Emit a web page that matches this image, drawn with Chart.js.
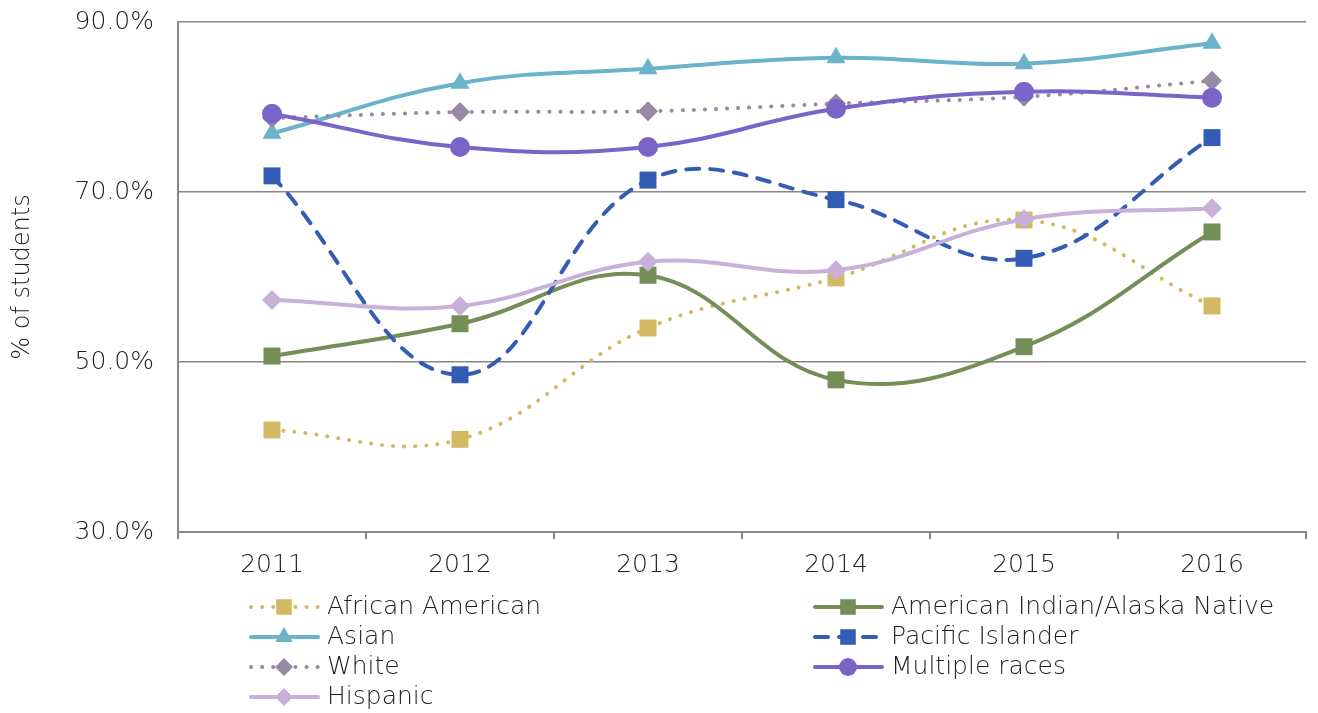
<!DOCTYPE html>
<html>
<head>
<meta charset="utf-8">
<script src="https://cdn.jsdelivr.net/npm/chart.js@4.4.1/dist/chart.umd.min.js"></script>
<style>
  html, body { margin: 0; padding: 0; background: #fff; }
  #wrap { width: 1318px; height: 713px; }
</style>
</head>
<body>
<div id="wrap"><canvas id="grad-chart"></canvas></div>
<script>
const years = ['2011', '2012', '2013', '2014', '2015', '2016'];
const africanAmerican = [42.0, 40.9, 54.0, 59.9, 66.7, 56.6];
const americanIndian = [50.7, 54.5, 60.2, 47.9, 51.8, 65.3];
const asian = [76.9, 82.8, 84.5, 85.8, 85.1, 87.5];
const pacificIslander = [71.9, 48.5, 71.4, 69.1, 62.2, 76.4];
const white = [78.7, 79.4, 79.5, 80.4, 81.2, 83.1];
const multipleRaces = [79.2, 75.3, 75.3, 79.8, 81.8, 81.1];
const hispanic = [57.3, 56.6, 61.8, 60.8, 66.8, 68.1];
const yTicks = [30, 50, 70, 90];

const FONT = '"DejaVu Sans", sans-serif';
const TEXT = '#1e1e1e';
const AXIS = '#878787';

const dotted = [0.1, 11];
const dashed = [13, 11];

function series(label, data, color, style, radius, dash) {
  return {
    label: label,
    data: data,
    borderColor: color,
    backgroundColor: color,
    borderWidth: 4,
    borderDash: dash || [],
    borderCapStyle: 'round',
    tension: 0.4,
    pointStyle: style,
    pointRadius: radius,
    pointHoverRadius: radius,
    pointBorderWidth: 0,
    pointBackgroundColor: color
  };
}

const datasets = [
  series('African American', africanAmerican, '#D2B962', 'rect', 12, dotted),
  series('American Indian/Alaska Native', americanIndian, '#738E56', 'rect', 12),
  series('Asian', asian, '#6BB2CB', 'triangle', 11),
  series('Pacific Islander', pacificIslander, '#355CB5', 'rect', 12, dashed),
  series('White', white, '#978AA5', 'rectRot', 10, dotted),
  series('Multiple races', multipleRaces, '#7B64C8', 'circle', 10),
  series('Hispanic', hispanic, '#C8B0D8', 'rectRot', 10)
];
// later series sit on top
datasets.forEach((d, i) => { d.order = datasets.length - i; });

// two-column legend under the axis
const legendGrid = {
  id: 'legendGrid',
  afterDraw(chart) {
    const ctx = chart.ctx;
    const cols = [249, 813];
    const rowY = [607, 637, 667, 697];
    ctx.save();
    chart.data.datasets.forEach((ds, i) => {
      const x = cols[i % 2];
      const y = rowY[Math.floor(i / 2)];
      ctx.strokeStyle = ds.borderColor;
      ctx.lineWidth = 4;
      ctx.lineCap = 'round';
      ctx.setLineDash(ds.borderDash);
      ctx.beginPath();
      ctx.moveTo(x + 2, y);
      ctx.lineTo(x + 69, y);
      ctx.stroke();
      ctx.setLineDash([]);
      ctx.fillStyle = ds.pointBackgroundColor;
      Chart.helpers.drawPoint(ctx, {
        pointStyle: ds.pointStyle,
        radius: ds.pointRadius - 1,
        rotation: 0,
        borderWidth: 0
      }, x + 35, y);
      ctx.fillStyle = TEXT;
      ctx.font = '200 25px ' + FONT;
      ctx.textBaseline = 'middle';
      ctx.textAlign = 'left';
      ctx.fillText(ds.label, x + 78, y);
    });
    ctx.restore();
  }
};

new Chart(document.getElementById('grad-chart'), {
  type: 'line',
  data: { labels: years, datasets: datasets },
  plugins: [legendGrid],
  options: {
    responsive: true,
    maintainAspectRatio: false,
    animation: false,
    layout: { padding: { top: 22, right: 10, bottom: 121, left: 0 } },
    plugins: {
      legend: { display: false },
      tooltip: { enabled: false }
    },
    scales: {
      x: {
        offset: true,
        grid: {
          offset: true,
          drawOnChartArea: false,
          drawTicks: true,
          tickLength: 7,
          color: AXIS,
          lineWidth: 2
        },
        border: { display: true, color: AXIS, width: 2 },
        ticks: { color: TEXT, padding: 11, font: { family: FONT, size: 25, weight: 200 } },
        afterFit(scale) {
          scale.height = 60;
          scale.paddingLeft = 0;
          scale.paddingRight = 0;
        }
      },
      y: {
        min: 30,
        max: 90,
        afterBuildTicks(scale) { scale.ticks = yTicks.map(v => ({ value: v })); },
        grid: { color: AXIS, lineWidth: 1.5, drawTicks: false },
        border: { display: true, color: AXIS, width: 2 },
        ticks: {
          color: TEXT,
          padding: 24,
          font: { family: FONT, size: 25, weight: 200 },
          callback: v => v.toFixed(1) + '%'
        },
        title: {
          display: true,
          text: '% of students',
          color: TEXT,
          padding: { top: 8, bottom: 0 },
          font: { family: FONT, size: 24, weight: 200 }
        },
        afterFit(scale) {
          scale.width = 178;
          scale.paddingTop = 0;
          scale.paddingBottom = 0;
        }
      }
    }
  }
});
</script>
</body>
</html>
